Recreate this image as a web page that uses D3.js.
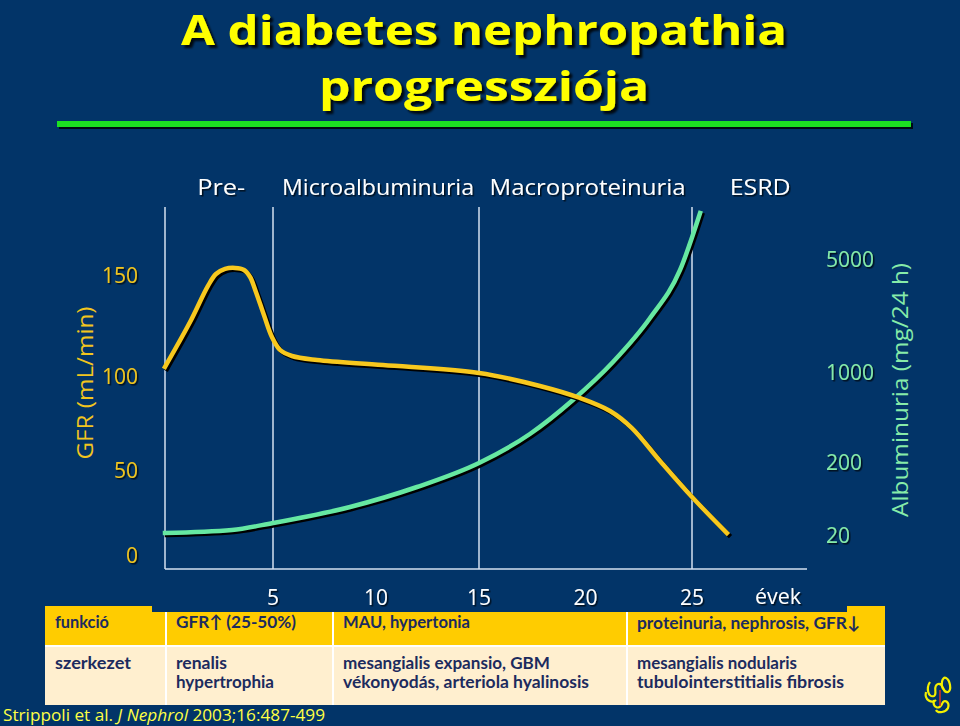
<!DOCTYPE html>
<html><head><meta charset="utf-8">
<script src="https://cdn.jsdelivr.net/npm/d3@7"></script>
<style>html,body{margin:0;padding:0;background:#023468;overflow:hidden} svg{display:block}</style>
</head><body>
<script>
// ---------- data ----------
const titleLines = ["A diabetes nephropathia", "progressziója"];
const phaseLabels = ["Pre-", "Microalbuminuria", "Macroproteinuria", "ESRD"];
const phaseCenters = [2.6, 10.1, 20.1, 28.2];      // years
const phaseBounds = [5, 15, 25];                    // years
const xTicks = [5, 10, 15, 20, 25];
const xUnit = "évek";
const gfrTicks = [0, 50, 100, 150];
const albTicks = [20, 200, 1000, 5000];
const gfrTitle = "GFR (mL/min)";
const albTitle = "Albuminuria (mg/24 h)";

const gfrYears  = [0, 1.16, 1.99, 2.36, 2.78, 3.24, 3.66, 3.94, 4.21, 4.58, 4.95, 5.34, 5.92, 7.14, 10.34, 15, 17.86, 19.74, 21.15, 22.18, 23.5, 25, 26.64];
const gfrValues = [104.5, 126.7, 144.6, 150.5, 153, 153.5, 152.5, 149, 141.6, 130.2, 119.3, 112.9, 109.9, 107.9, 105.4, 101.5, 94.7, 88.3, 81.4, 72.3, 54.8, 34.1, 12.9];

const albYears  = [0, 3.1, 5, 8.74, 11.99, 15, 17.39, 19.41, 21.29, 23.03, 24.44, 25.38];
const albValues = [21.3, 23.4, 29.2, 48.4, 90.9, 194, 330, 606, 1153, 2158, 4276, 9630];

const tableRowLabels = ["funkció", "szerkezet"];
const tableFunction = ["GFR\u2191 (25-50%)", "MAU, hypertonia", "proteinuria, nephrosis, GFR\u2193"];
const tableStructure = [
  ["renalis", "hypertrophia"],
  ["mesangialis expansio, GBM", "vékonyodás, arteriola hyalinosis"],
  ["mesangialis nodularis", "tubulointerstitialis fibrosis"]
];
const citation = ["Strippoli et al. ", "J Nephrol", " 2003;16:487-499"];

// ---------- drawing ----------
const W = 960, H = 726;
const BG = "#023468";
const svg = d3.select("body").append("svg").attr("width", W).attr("height", H);
svg.append("rect").attr("width", W).attr("height", H).attr("fill", BG);

const defs = svg.append("defs");
function shadow(id, d, sd, op) {
  const f = defs.append("filter").attr("id", id).attr("x", "-10%").attr("y", "-30%").attr("width", "130%").attr("height", "170%");
  f.append("feDropShadow").attr("dx", d).attr("dy", d).attr("stdDeviation", sd)
    .attr("flood-color", "#000").attr("flood-opacity", op);
}
shadow("sh3", 3, 0.8, 0.85);
shadow("sh2", 2, 0.6, 0.8);
shadow("sh1", 1.5, 0.4, 0.7);

const FONT = "'Open Sans', 'DejaVu Sans', sans-serif";

// scales
const x = d3.scaleLinear().domain([0, 5, 15, 25, 30.4]).range([165, 273, 479, 692, 807]);
const yG = d3.scaleLinear().domain([0, 50, 100, 150]).range([555, 470, 376, 275]);
const yA = d3.scaleLog().domain([20, 200, 1000, 5000]).range([535, 462, 372, 259]);
const plotTop = 207, plotBottom = 569;

// title
const titleY = [45, 101], titleW = [606, 330];
titleLines.forEach((t, i) => {
  svg.append("text").attr("x", 484).attr("y", titleY[i]).attr("text-anchor", "middle")
    .attr("font-family", FONT).attr("font-weight", "bold").attr("font-size", 41)
    .attr("fill", "#FFFF00").attr("filter", "url(#sh3)")
    .attr("textLength", titleW[i]).attr("lengthAdjust", "spacingAndGlyphs").text(t);
});
svg.append("rect").attr("x", 57).attr("y", 121).attr("width", 854).attr("height", 6)
  .attr("fill", "#1FE024").attr("filter", "url(#sh2)");

// phase labels
const phaseW = [48, 192, 196, 61];
phaseLabels.forEach((t, i) => {
  svg.append("text").attr("x", x(phaseCenters[i])).attr("y", 195).attr("text-anchor", "middle")
    .attr("font-family", FONT).attr("font-size", 22).attr("fill", "#FFFFFF").attr("filter", "url(#sh1)")
    .attr("textLength", phaseW[i]).attr("lengthAdjust", "spacingAndGlyphs").text(t);
});

// plot frame & phase boundaries
const lineCol = "#D4E0F0";
svg.append("line").attr("x1", x(0)).attr("x2", x(0)).attr("y1", plotTop).attr("y2", plotBottom)
  .attr("stroke", lineCol).attr("stroke-width", 1.5);
svg.append("line").attr("x1", x(0)).attr("x2", x(30.4)).attr("y1", plotBottom).attr("y2", plotBottom)
  .attr("stroke", lineCol).attr("stroke-width", 1.5);
svg.selectAll(".pb").data(phaseBounds).enter().append("line")
  .attr("x1", d => x(d)).attr("x2", d => x(d)).attr("y1", plotTop).attr("y2", plotBottom)
  .attr("stroke", lineCol).attr("stroke-width", 1.5);

// curves
const gfrData = gfrYears.map((yr, i) => [yr, gfrValues[i]]);
const albData = albYears.map((yr, i) => [yr, albValues[i]]);
const gfrLine = d3.line().x(d => x(d[0])).y(d => yG(d[1])).curve(d3.curveCatmullRom.alpha(0.5));
const albLine = d3.line().x(d => x(d[0])).y(d => yA(d[1])).curve(d3.curveMonotoneX);

function drawCurve(path, col) {
  svg.append("path").attr("d", path).attr("transform", "translate(2,2)")
    .attr("fill", "none").attr("stroke", "#000").attr("stroke-width", 4.5).attr("stroke-linecap", "square");
  svg.append("path").attr("d", path)
    .attr("fill", "none").attr("stroke", col).attr("stroke-width", 4.5).attr("stroke-linecap", "square");
}
drawCurve(albLine(albData), "#66E8A2");
drawCurve(gfrLine(gfrData), "#F7C81E");

// left axis labels
const gfrCol = "#F2C51E";
svg.selectAll(".gt").data(gfrTicks).enter().append("text")
  .attr("x", 138).attr("y", d => yG(d)).attr("dy", "0.36em").attr("text-anchor", "end")
  .attr("font-family", FONT).attr("font-size", 21).attr("fill", gfrCol).attr("filter", "url(#sh1)")
  .text(d => d);
svg.append("text").attr("transform", "translate(85,383) rotate(-90)").attr("dy", "0.36em")
  .attr("text-anchor", "middle").attr("font-family", FONT).attr("font-size", 22).attr("fill", gfrCol)
  .attr("textLength", 153).attr("lengthAdjust", "spacingAndGlyphs").text(gfrTitle);

// right axis labels
const albCol = "#86EBA9";
svg.selectAll(".at").data(albTicks).enter().append("text")
  .attr("x", 826).attr("y", d => yA(d)).attr("dy", "0.36em").attr("text-anchor", "start")
  .attr("font-family", FONT).attr("font-size", 21).attr("fill", albCol).attr("filter", "url(#sh1)")
  .text(d => d);
svg.append("text").attr("transform", "translate(900,390) rotate(-90)").attr("dy", "0.36em")
  .attr("text-anchor", "middle").attr("font-family", FONT).attr("font-size", 22).attr("fill", albCol)
  .attr("textLength", 254).attr("lengthAdjust", "spacingAndGlyphs").text(albTitle);

// table
const tx0 = 45, tx1 = 885, colX = [45, 166, 333, 627, 885];
const r1y0 = 606, r1y1 = 645, r2y0 = 647, r2y1 = 705;
svg.append("rect").attr("x", tx0).attr("y", r1y0).attr("width", tx1 - tx0).attr("height", r1y1 - r1y0).attr("fill", "#FFCC00");
svg.append("rect").attr("x", tx0).attr("y", r2y0).attr("width", tx1 - tx0).attr("height", r2y1 - r2y0).attr("fill", "#FFEFCF");
svg.append("rect").attr("x", tx0).attr("y", r1y1).attr("width", tx1 - tx0).attr("height", r2y0 - r1y1).attr("fill", "#FFFFFF");
svg.selectAll(".cs").data(colX.slice(1, 4)).enter().append("rect")
  .attr("x", d => d - 1).attr("y", r1y0 + 6).attr("width", 2).attr("height", r2y1 - r1y0 - 6).attr("fill", "#FFFFFF");
// the dark panel behind the year ticks
svg.append("rect").attr("x", 152).attr("y", 580).attr("width", 847 - 152).attr("height", 612 - 580).attr("fill", BG);

const tabCol = "#1C2B5E";
const TFONT = "'Lato', 'Open Sans', sans-serif";
function cellText(t, xx, yy, w) {
  svg.append("text").attr("x", xx).attr("y", yy).attr("dy", "0.36em")
    .attr("font-family", TFONT).attr("font-weight", "bold").attr("font-size", 17.5).attr("fill", tabCol)
    .attr("textLength", w).attr("lengthAdjust", "spacingAndGlyphs").text(t);
}
const rowLabelW = [54, 76];
cellText(tableRowLabels[0], 55, 622, rowLabelW[0]);
cellText(tableRowLabels[1], 55, 663, rowLabelW[1]);
const funcW = [120, 127, 223];
const funcY = [622, 622, 623];
const cellX = [176, 343, 637];
tableFunction.forEach((t, i) => cellText(t, cellX[i], funcY[i], funcW[i]));
const structW = [[51, 98], [207, 246], [160, 207]];
tableStructure.forEach((lines, i) => lines.forEach((t, j) => cellText(t, cellX[i], 663 + j * 19, structW[i][j])));

// x ticks
svg.selectAll(".xt").data(xTicks).enter().append("text")
  .attr("x", d => x(d)).attr("y", 597).attr("dy", "0.36em").attr("text-anchor", "middle")
  .attr("font-family", FONT).attr("font-size", 21).attr("fill", "#FFFFFF").attr("filter", "url(#sh1)")
  .text(d => d);
svg.append("text").attr("x", 778).attr("y", 596).attr("dy", "0.36em").attr("text-anchor", "middle")
  .attr("font-family", FONT).attr("font-size", 21).attr("fill", "#FFFFFF").attr("filter", "url(#sh1)")
  .attr("textLength", 46).attr("lengthAdjust", "spacingAndGlyphs").text(xUnit);

// citation
const cit = svg.append("text").attr("x", 3).attr("y", 715).attr("dy", "0.36em")
  .attr("font-family", FONT).attr("font-size", 17).attr("fill", "#FFFF44")
  .attr("textLength", 322).attr("lengthAdjust", "spacingAndGlyphs");
citation.forEach((t, i) => cit.append("tspan").attr("font-style", i === 1 ? "italic" : "normal").text(t));

// small decorative logo (bottom right)
const logo = svg.append("g").attr("transform", "translate(922,676)").attr("fill", "none")
  .attr("stroke", "#F4F000").attr("stroke-width", 2.2).attr("stroke-linejoin", "round");
logo.append("path").attr("d", "M8 6 C4 12 6 22 12 20 C16 18 10 10 16 8 C22 6 20 18 26 16 C30 14 28 4 24 2 C20 0 18 10 22 14");
logo.append("path").attr("d", "M4 16 C2 24 10 28 14 24 M12 24 C10 32 18 34 20 28 C22 22 28 26 26 32 C24 36 16 38 14 34");
logo.append("path").attr("d", "M18 14 L18 30").attr("stroke", "#E03020").attr("stroke-width", 1.5);
</script>
</body></html>
